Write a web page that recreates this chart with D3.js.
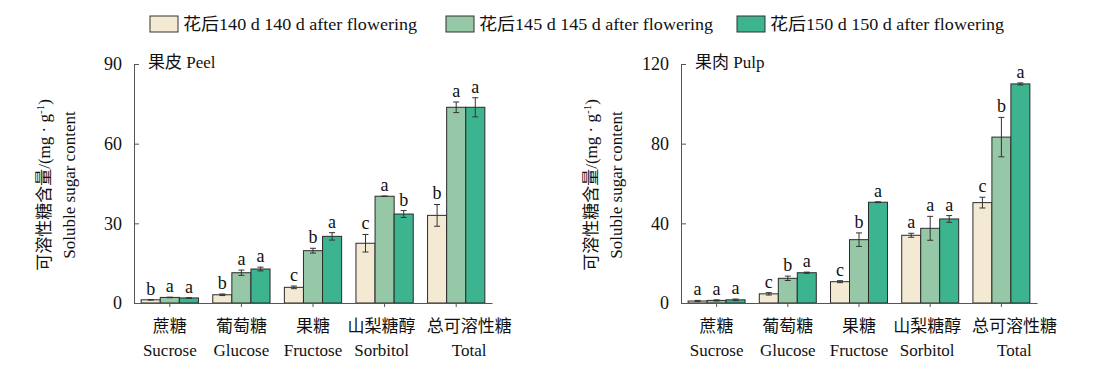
<!DOCTYPE html>
<html><head><meta charset="utf-8">
<script src="https://cdn.jsdelivr.net/npm/d3@7"></script>
<style>
body{margin:0;background:#fff;}
svg text{font-family:"Liberation Serif","Times New Roman","Noto Sans CJK SC",serif;fill:#111;}
</style></head>
<body><svg id="c" width="1100" height="372"></svg>
<script>
const categoriesZh = ["蔗糖","葡萄糖","果糖","山梨糖醇","总可溶性糖"];
const categoriesEn = ["Sucrose","Glucose","Fructose","Sorbitol","Total"];
const seriesNames = ["花后140 d 140 d after flowering","花后145 d 145 d after flowering","花后150 d 150 d after flowering"];
const colors = ["#F4EAD3","#96C7A6","#3CB48F"];

const peel140 = [1.2, 3.1, 5.9, 22.5, 33.0];
const peel145 = [2.1, 11.4, 19.7, 40.2, 73.7];
const peel150 = [1.9, 12.8, 25.1, 33.5, 73.7];
const peelErr140 = [0.1, 0.3, 0.5, 3.3, 4.1];
const peelErr145 = [0.1, 1.0, 0.9, 0.1, 2.0];
const peelErr150 = [0.1, 0.7, 1.4, 1.3, 3.6];
const peelSig140 = ["b","b","c","c","b"];
const peelSig145 = ["a","a","b","a","a"];
const peelSig150 = ["a","a","a","b","a"];

const pulp140 = [1.0, 4.6, 10.7, 34.0, 50.4];
const pulp145 = [1.3, 12.4, 31.8, 37.5, 83.3];
const pulp150 = [1.6, 15.2, 50.6, 42.2, 110.0];
const pulpErr140 = [0.3, 0.6, 0.5, 1.0, 2.7];
const pulpErr145 = [0.3, 1.1, 3.4, 6.0, 9.9];
const pulpErr150 = [0.4, 0.3, 0.2, 1.7, 0.5];
const pulpSig140 = ["a","c","c","a","c"];
const pulpSig145 = ["a","b","b","a","b"];
const pulpSig150 = ["a","a","a","a","a"];

const peelTicks = [0,30,60,90];
const pulpTicks = [0,40,80,120];

const svg = d3.select("#c");

function panel(cfg){
  const g = svg.append("g");
  const x = d3.scaleBand().domain(d3.range(5)).range([cfg.x0, cfg.x1]).paddingInner(0.2).paddingOuter(0.1);
  const xc = d3.scaleBand().domain(d3.range(5)).range([cfg.x0, cfg.x1]);
  const xs = d3.scaleBand().domain([0,1,2]).range([0, x.bandwidth()]);
  const y = d3.scaleLinear().domain([0, cfg.max]).range([303, 64]);

  const rows = [];
  for (let s=0;s<3;s++) for (let i=0;i<5;i++)
    rows.push({s, i, v: cfg.vals[s][i], e: cfg.errs[s][i], t: cfg.sigs[s][i]});

  g.selectAll("rect.bar").data(rows).join("rect")
    .attr("x", d => x(d.i) + xs(d.s))
    .attr("y", d => y(d.v))
    .attr("width", xs.bandwidth())
    .attr("height", d => y(0) - y(d.v))
    .attr("fill", d => colors[d.s])
    .attr("stroke", "#2b2b2b").attr("stroke-width", 1);

  const eb = g.selectAll("g.err").data(rows).join("g")
    .attr("transform", d => `translate(${x(d.i)+xs(d.s)+xs.bandwidth()/2},0)`);
  eb.append("line").attr("y1", d=>y(d.v+d.e)).attr("y2", d=>y(d.v-d.e)).attr("stroke","#333");
  eb.append("line").attr("x1",-3).attr("x2",3).attr("y1", d=>y(d.v+d.e)).attr("y2", d=>y(d.v+d.e)).attr("stroke","#333");
  eb.append("line").attr("x1",-3).attr("x2",3).attr("y1", d=>y(d.v-d.e)).attr("y2", d=>y(d.v-d.e)).attr("stroke","#333");
  eb.append("text").attr("text-anchor","middle").attr("y", d=>y(d.v+d.e)-5)
    .style("font-size","18px").text(d=>d.t);

  // y axis
  const ya = d3.axisLeft(y).tickValues(cfg.ticks).tickSizeInner(-5).tickSizeOuter(0).tickPadding(12);
  const yg = g.append("g").attr("transform",`translate(${cfg.x0},0)`).call(ya);
  yg.select(".domain").attr("stroke","#555");
  yg.selectAll(".tick line").attr("stroke","#555");
  yg.selectAll(".tick text").style("font-size","18px").attr("fill","#111");
  // x axis
  const xa = d3.axisBottom(xc).tickSizeInner(4).tickSizeOuter(0).tickFormat("");
  const xg = g.append("g").attr("transform",`translate(0,303)`).call(xa);
  xg.select(".domain").attr("stroke","#555");
  xg.selectAll(".tick line").attr("stroke","#555");
  const last = categoriesZh.length - 1;
  const lab = g.selectAll("g.xl").data(d3.range(5)).join("g")
    .attr("transform", i=>`translate(${xc(i)+xc.bandwidth()/2 + (i===last ? 13 : (i===last-1 ? -3 : 0))},0)`);
  lab.append("text").attr("text-anchor","middle").attr("y",332).style("font-size","17px").text(i=>categoriesZh[i]);
  lab.append("text").attr("text-anchor","middle").attr("y",356).style("font-size","17px").text(i=>categoriesEn[i]);

  g.append("text").attr("x", cfg.x0+14).attr("y", 68).style("font-size","17px").text(cfg.title);

  const yl = g.append("text").attr("transform",`translate(${cfg.x0-84},${185}) rotate(-90)`)
    .attr("text-anchor","middle").style("font-size","17px");
  yl.append("tspan").attr("x",0).attr("dy",0).text("可溶性糖含量/(mg · g");
  yl.append("tspan").attr("dy",-6).style("font-size","11px").text("-1");
  yl.append("tspan").attr("dy",6).text(")");
  g.append("text").attr("transform",`translate(${cfg.x0-59},${185}) rotate(-90)`)
    .attr("text-anchor","middle").style("font-size","17px").text("Soluble sugar content");
}

panel({x0:134, x1:492, max:90, ticks:peelTicks, title:"果皮 Peel",
  vals:[peel140,peel145,peel150], errs:[peelErr140,peelErr145,peelErr150], sigs:[peelSig140,peelSig145,peelSig150]});
panel({x0:681, x1:1037, max:120, ticks:pulpTicks, title:"果肉 Pulp",
  vals:[pulp140,pulp145,pulp150], errs:[pulpErr140,pulpErr145,pulpErr150], sigs:[pulpSig140,pulpSig145,pulpSig150]});

// legend
const legX = [150, 446, 737];
const lg = svg.selectAll("g.leg").data(seriesNames).join("g")
  .attr("transform",(d,i)=>`translate(${legX[i]},16)`);
lg.append("rect").attr("width",28).attr("height",16).attr("fill",(d,i)=>colors[i]).attr("stroke","#333");
lg.append("text").attr("x",33).attr("y",14).style("font-size","17px")
  .attr("textLength",234).attr("lengthAdjust","spacingAndGlyphs").text(d=>d);
</script></body></html>
